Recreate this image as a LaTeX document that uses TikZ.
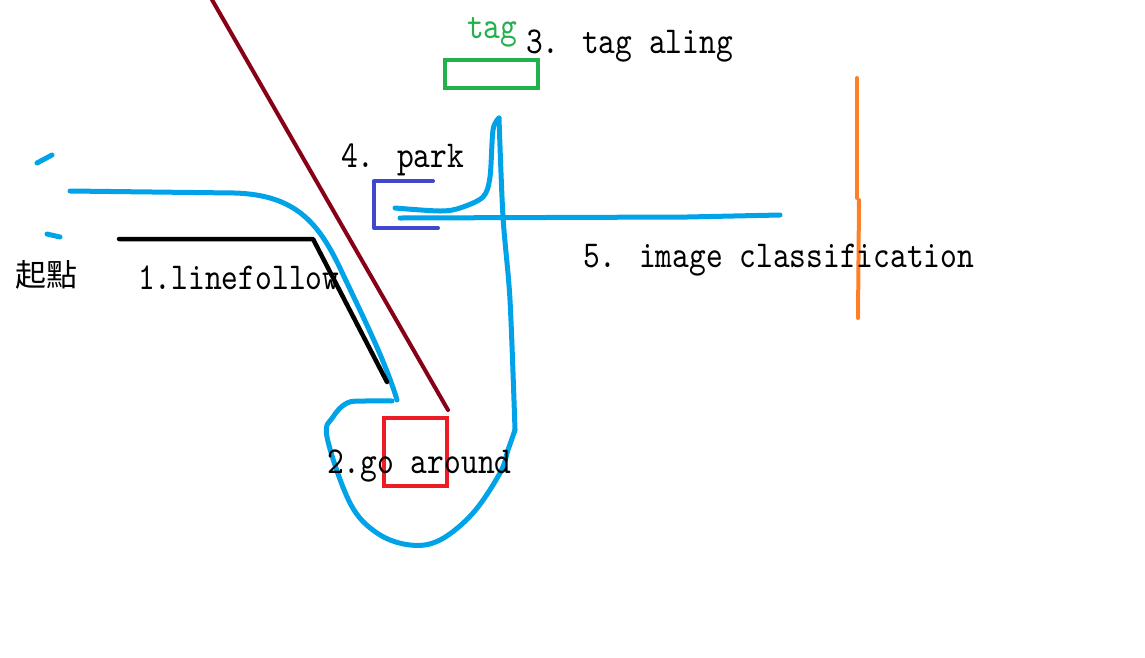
\documentclass[tikz,border=0pt]{standalone}
\usepackage{fontspec}
\newfontfamily\sketchfont{lmmono10-regular.otf}[FakeStretch=0.84]
\newfontfamily\cjkfont{Noto Sans CJK TC}
\definecolor{paintblue}{HTML}{00A2E8}
\definecolor{paintred}{HTML}{ED1C24}
\definecolor{paintdarkred}{HTML}{880015}
\definecolor{paintgreen}{HTML}{22B14C}
\definecolor{paintindigo}{HTML}{3F48CC}
\definecolor{paintorange}{HTML}{FF7F27}

\begin{document}
\begin{tikzpicture}[x=1pt, y=-1pt,
  route/.style = {draw=paintblue, line width=5pt, line cap=round, line join=round},
  stroke/.style = {line width=4.5pt, line cap=round, line join=round},
  label/.style = {inner sep=0pt, anchor=base west, font=\sketchfont\fontsize{38}{40}\selectfont}]
  \useasboundingbox (0,0) rectangle (1145,657);
  % start marks and first route
  \draw[route] (37,163) -- (52,155);
  \draw[route] (47,234) -- (60,237);
  \draw[route] (70,191) -- (235,193) .. controls (295,195) and (318,222) .. (340,268)
    .. controls (362,315) and (385,360) .. (397,400);
  \draw[stroke, black] (119,239) -- (313,239) -- (387,382);
  \draw[stroke, paintdarkred, line width=4pt] (211,-2) -- (448,410);
  % go around loop
  \draw[stroke, paintred, line cap=butt, line join=miter] (384,418) rectangle (447,486);
  \draw[route] plot[smooth, tension=0.5] coordinates {(499,118) (503,217) (510,300) (515,430)};
  \draw[route] plot[smooth, tension=0.6] coordinates {(515,430) (508,450) (500,473) (473,513)
    (440,540) (410,545) (377,533) (350,503) (327,437) (333,417) (347,403) (365,401) (392,401)};
  \draw[route] plot[smooth, tension=0.5] coordinates {(395,208) (440,211) (460,208) (483,197)
    (490,177) (493,130) (499,118)};
  \draw[route] (400,218) -- (687,217) -- (780,215);
  % park, tag and image
  \draw[stroke, paintindigo, line width=4pt] (433,181) -- (374,181) -- (374,228) -- (438,228);
  \draw[stroke, paintgreen, line width=4pt, line cap=butt, line join=miter] (445,60) rectangle (538,88);
  \draw[stroke, paintorange, line width=4pt] (857,78) -- (857,198);
  \draw[stroke, paintorange, line width=4pt] (859,200) -- (858,318);
  % labels
  \node[inner sep=0pt, font=\cjkfont\fontsize{31}{32}\selectfont] (start) at (47,275) {起點};
  \node[label] (linefollow) at (138,289) {1.linefollow};
  \node[label] (goaround) at (327,473) {2.go around};
  \node[label] (tagalign) at (526,53) {3. tag aling};
  \node[label] (park) at (341,167) {4. park};
  \node[label] (classify) at (583,267) {5. image classification};
  \node[label, text=paintgreen] (tag) at (467,38) {tag};
\end{tikzpicture}
\end{document}
